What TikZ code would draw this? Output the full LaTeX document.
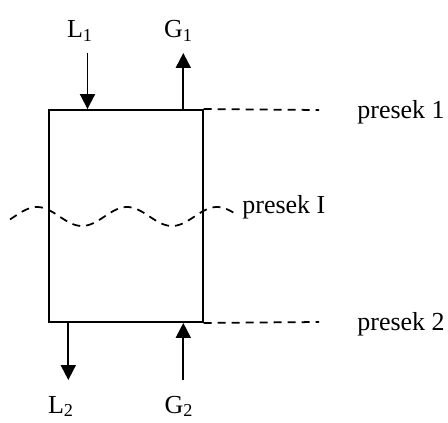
\documentclass[tikz,border=0pt]{standalone}
\usepackage{fontspec}
\setmainfont{Liberation Serif}
\usepackage{tikz}
\usetikzlibrary{arrows.meta, positioning}

\begin{document}
\begin{tikzpicture}[
    x=0.02cm, y=-0.02cm,
    column/.style={rectangle, draw, line width=1.1pt, minimum width=3.07cm, minimum height=4.24cm, inner sep=0pt},
    flow/.style={-{Triangle[length=0.3cm, width=0.3cm]}, line width=1.1pt},
    sect/.style={line width=1pt, dash pattern=on 0.16cm off 0.12cm},
    lbl/.style={font=\fontsize{14.8}{17}\selectfont, inner sep=0pt}
]
\useasboundingbox (0,0) rectangle (448,422);
\node[column] (col) at (126,216) {};
\node[lbl, anchor=base] (L1) at (80,38) {L\textsubscript{1}};
\node[lbl, anchor=base] (G1) at (178.5,38) {G\textsubscript{1}};
\node[lbl, anchor=base] (L2) at (61,413) {L\textsubscript{2}};
\node[lbl, anchor=base] (G2) at (179,413) {G\textsubscript{2}};
\node[lbl, anchor=base west] (p1) at (357,118) {presek 1};
\node[lbl, anchor=base west] (pI) at (242,213) {presek I};
\node[lbl, anchor=base west] (p2) at (357,330) {presek 2};
\coordinate (l1in) at (87.5,53);
\coordinate (g1out) at (183.3,53);
\coordinate (l2out) at (68.3,380);
\coordinate (g2in) at (183.3,380);
\coordinate (d1) at (319,110);
\coordinate (d2) at (319,322);
\draw[flow] (l1in) -- (l1in |- col.north);
\draw[flow] (g1out |- col.north) -- (g1out);
\draw[flow] (l2out |- col.south) -- (l2out);
\draw[flow] (g2in) -- (g2in |- col.south);
\draw[sect] (col.north east) -- (d1);
\draw[sect] (col.south east) -- (d2);
\draw[sect] plot[domain=10:236, samples=90, smooth] (\x, {216.5 - 9.5*cos(4*(\x-37))});
\end{tikzpicture}
\end{document}
